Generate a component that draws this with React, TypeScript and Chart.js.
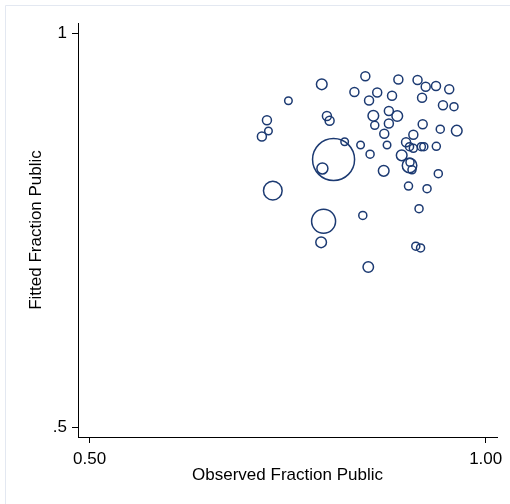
import React, { useEffect, useRef } from "react";
import { Chart, registerables } from "chart.js";

Chart.register(...registerables);

// Observed fraction public (x), fitted fraction public (y), relative weight (bubble area)
const observed = [
  0.8481, 0.8898, 0.914, 0.9243, 0.9373, 0.954, 0.7931, 0.8343, 0.8631, 0.8818,
  0.8528, 0.9197, 0.751, 0.9461, 0.96, 0.8582, 0.8778, 0.8884, 0.7996, 0.803,
  0.7239, 0.7258, 0.7175, 0.86, 0.8778, 0.9205, 0.9427, 0.9635, 0.872, 0.9087,
  0.822, 0.8995, 0.8421, 0.8755, 0.9039, 0.9087, 0.9188, 0.9219, 0.9377, 0.808,
  0.7939, 0.8541, 0.894, 0.9039, 0.9045, 0.907, 0.8713, 0.9402, 0.7313, 0.9026,
  0.926, 0.7954, 0.7923, 0.8449, 0.9159, 0.9118, 0.9178, 0.8518,
];
const fitted = [
  0.9459, 0.9418, 0.9412, 0.9327, 0.9336, 0.9294, 0.9357, 0.9259, 0.9253, 0.9211,
  0.9151, 0.9187, 0.9149, 0.9092, 0.9073, 0.8957, 0.9018, 0.8955, 0.8955, 0.8895,
  0.8901, 0.8764, 0.8694, 0.8836, 0.8859, 0.8849, 0.8787, 0.8768, 0.873, 0.8716,
  0.8628, 0.8622, 0.8586, 0.8586, 0.8565, 0.8544, 0.8565, 0.8565, 0.857, 0.8402,
  0.8288, 0.8469, 0.8455, 0.8326, 0.8366, 0.8271, 0.8258, 0.8222, 0.8006, 0.8065,
  0.8031, 0.7617, 0.735, 0.7691, 0.7777, 0.7301, 0.7278, 0.7036,
];
const weights = [
  1, 1, 1, 1, 1, 1, 1.4, 1, 1, 1,
  1, 1, 0.7, 1, 0.8, 1.4, 1, 1.4, 1, 1,
  1, 0.7, 1, 0.8, 1, 1, 0.8, 1.4, 1, 1,
  0.7, 1, 0.7, 0.7, 0.8, 0.8, 0.8, 0.8, 0.8, 21.8,
  1.5, 0.8, 1.4, 2.6, 0.8, 0.8, 1.4, 0.8, 4.3, 0.8,
  0.8, 7.1, 1.4, 0.8, 0.8, 0.8, 0.8, 1.35,
];

const xTicks = [0.5, 1.0];
const xTickLabels = ["0.50", "1.00"];
const yTicks = [0.5, 1.0];
const yTickLabels = [".5", "1"];

const xTitle = "Observed Fraction Public";
const yTitle = "Fitted Fraction Public";

const FONT = "'Liberation Sans', Arial, Helvetica, sans-serif";

const framePlugin = {
  id: "frame",
  beforeDraw(chart: any) {
    const ctx = chart.ctx;
    ctx.save();
    ctx.fillStyle = "#ffffff";
    ctx.fillRect(0, 0, chart.width, chart.height);
    ctx.strokeStyle = "#e3e8f1";
    ctx.lineWidth = 1;
    ctx.beginPath();
    ctx.moveTo(5.5, chart.height);
    ctx.lineTo(5.5, 5.5);
    ctx.lineTo(chart.width, 5.5);
    ctx.stroke();
    ctx.restore();
  },
};

export default function App() {
  const ref = useRef<HTMLCanvasElement | null>(null);

  useEffect(() => {
    if (!ref.current) return;
    const points = observed.map((x, i) => ({
      x,
      y: fitted[i],
      r: 4.5 * Math.sqrt(weights[i]),
    }));
    const chart = new Chart(ref.current, {
      type: "bubble",
      data: {
        datasets: [
          {
            data: points,
            backgroundColor: "rgba(0,0,0,0)",
            borderColor: "#1c3a72",
            borderWidth: 1.5,
            hoverBorderWidth: 1.5,
            clip: false,
          } as any,
        ],
      },
      plugins: [framePlugin],
      options: {
        animation: false,
        responsive: false,
        events: [],
        layout: { autoPadding: false, padding: { top: 23, right: 13, left: 0, bottom: 0 } },
        plugins: {
          legend: { display: false },
          tooltip: { enabled: false },
        },
        scales: {
          x: {
            type: "linear",
            min: 0.4854,
            max: 1.0143,
            afterBuildTicks: (s: any) => {
              s.ticks = xTicks.map((v) => ({ value: v }));
            },
            afterFit: (s: any) => {
              s.height = 67;
              s.paddingLeft = 0;
              s.paddingRight = 0;
            },
            grid: {
              drawOnChartArea: false,
              drawTicks: true,
              tickLength: 6,
              color: "#000",
            },
            border: { display: true, color: "#000", width: 1 },
            ticks: {
              autoSkip: false,
              maxRotation: 0,
              padding: 6,
              color: "#000",
              font: { family: FONT, size: 17 },
              callback: (v: any) => xTickLabels[xTicks.indexOf(Number(v))] ?? "",
            },
            title: {
              display: true,
              text: xTitle,
              color: "#000",
              font: { family: FONT, size: 17 },
              padding: { top: 0, bottom: 18 },
            },
          },
          y: {
            type: "linear",
            min: 0.4877,
            max: 1.0136,
            afterBuildTicks: (s: any) => {
              s.ticks = yTicks.map((v) => ({ value: v }));
            },
            afterFit: (s: any) => {
              s.width = 78;
              s.paddingTop = 0;
              s.paddingBottom = 0;
            },
            grid: {
              drawOnChartArea: false,
              drawTicks: true,
              tickLength: 6,
              color: "#000",
            },
            border: { display: true, color: "#000", width: 1 },
            ticks: {
              autoSkip: false,
              padding: 5,
              color: "#000",
              font: { family: FONT, size: 17 },
              callback: (v: any) => yTickLabels[yTicks.indexOf(Number(v))] ?? "",
            },
            title: {
              display: true,
              text: yTitle,
              color: "#000",
              font: { family: FONT, size: 17 },
              padding: { top: 26, bottom: 0 },
            },
          },
        },
      } as any,
    });
    return () => chart.destroy();
  }, []);

  return (
    <div style={{ position: "fixed", left: 0, top: 0, width: 510, height: 504, background: "#fff" }}>
      <canvas ref={ref} width={510} height={504} style={{ display: "block" }} />
    </div>
  );
}
